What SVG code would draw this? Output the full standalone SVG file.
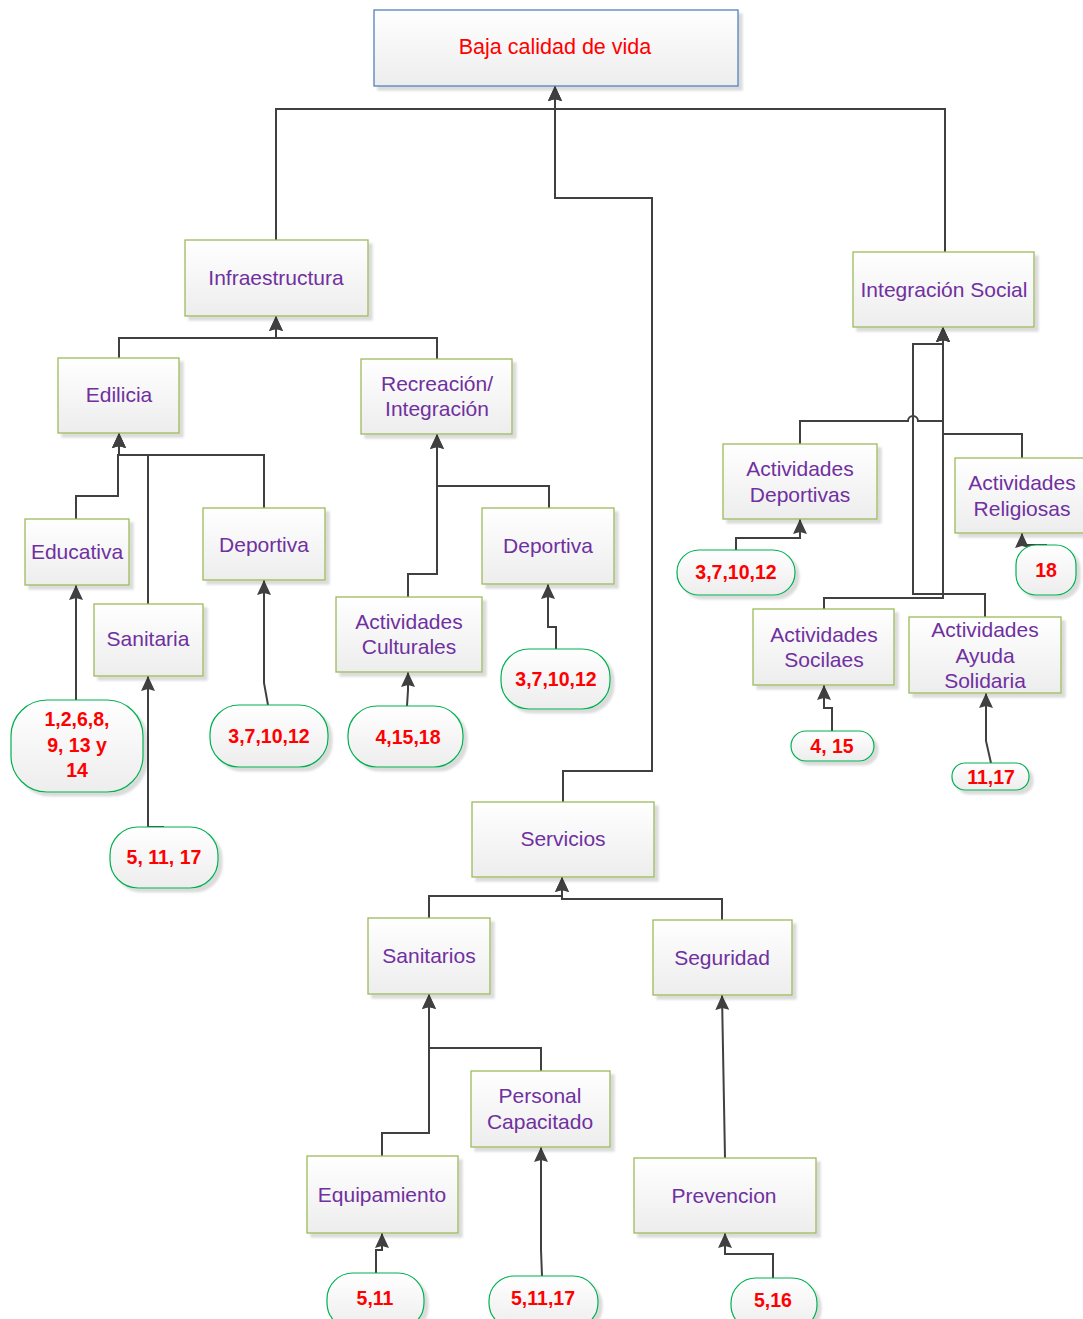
<svg xmlns="http://www.w3.org/2000/svg" width="1083" height="1319" viewBox="0 0 1083 1319">
<style>
.box{fill:url(#gb);stroke:#9bbb59;stroke-width:1.3;filter:url(#sh)}
.top{fill:url(#gb);stroke:#4f81bd;stroke-width:1.3;filter:url(#sh)}
.leaf{fill:url(#gb);stroke:#00b050;stroke-width:1.2;filter:url(#sh)}
.t{font-family:"Liberation Sans",Arial,sans-serif;font-size:21px;fill:#7030a0;text-anchor:middle;dominant-baseline:central}
.tr{font-family:"Liberation Sans",Arial,sans-serif;font-size:21.5px;fill:#ff0000;text-anchor:middle;dominant-baseline:central}
.n{font-family:"Liberation Sans",Arial,sans-serif;font-size:19.5px;font-weight:bold;fill:#ff0000;text-anchor:middle;dominant-baseline:central}
.c{fill:none;stroke:#404040;stroke-width:2}
.a{marker-end:url(#ah)}
</style>
<defs>
<linearGradient id="gb" x1="0" y1="0" x2="0" y2="1">
<stop offset="0" stop-color="#ffffff"/>
<stop offset="1" stop-color="#ededed"/>
</linearGradient>
<filter id="sh" x="-10%" y="-10%" width="130%" height="130%">
<feDropShadow dx="4" dy="4" stdDeviation="1" flood-color="#000" flood-opacity="0.14"/>
</filter>
<marker id="ah" markerWidth="16" markerHeight="14" refX="15" refY="7" orient="auto" markerUnits="userSpaceOnUse">
<path d="M0,0 L15,7 L0,14 L2,7 z" fill="#404040"/>
</marker>
</defs>

<g id="connectors">
<path class="c a" d="M276,240 V109 H555 V86"/>
<path class="c a" d="M945,252 V109 H555 V86"/>
<path class="c a" d="M563,802 V771 H652 V198 H555 V86"/>
<path class="c a" d="M119,358 V338 H276 V316"/>
<path class="c a" d="M437,359 V338 H276 V316"/>
<path class="c a" d="M76,519 V496 H118 V455 H119 V433"/>
<path class="c a" d="M148,604 V455 H119 V433"/>
<path class="c a" d="M264,508 V455 H119 V433"/>
<path class="c a" d="M76,700 V585"/>
<path class="c a" d="M164,827 H148 V676"/>
<path class="c a" d="M268,705 L264,683 V580"/>
<path class="c a" d="M408,597 V574 H437 V434"/>
<path class="c a" d="M549,508 V486 H437 V434"/>
<path class="c a" d="M407,706 L408,690 V672"/>
<path class="c a" d="M556,649 V627 H548 V584"/>
<path class="c a" d="M800,444 V421 H908 a5,5 0 0 1 10,0 H943 V327"/>
<path class="c a" d="M1022,458 V434 H943 V327"/>
<path class="c a" d="M824,609 V598 H943 V327"/>
<path class="c a" d="M985,617 V594 H913 V344 H943 V327"/>
<path class="c a" d="M736,550 V538 H800 V519"/>
<path class="c a" d="M1047,545 H1022 V533"/>
<path class="c a" d="M832,731 V708 H824 V685"/>
<path class="c a" d="M991,763 L986,741 V693"/>
<path class="c a" d="M429,918 V896 H562 V877"/>
<path class="c a" d="M722,920 V899 H562 V877"/>
<path class="c a" d="M382,1156 V1133 H429 V994"/>
<path class="c a" d="M541,1071 V1048 H429 V994"/>
<path class="c a" d="M725,1158 L722,995"/>
<path class="c a" d="M376,1273 V1250 H382 V1233"/>
<path class="c a" d="M542,1276 L541,1250 V1147"/>
<path class="c a" d="M773,1278 V1254 H725 V1233"/>
</g>

<g id="n-baja"><rect class="top" x="374" y="10" width="364" height="76"/><text class="tr" x="555" y="47">Baja calidad de vida</text></g>
<g id="n-infra"><rect class="box" x="185" y="240" width="183" height="76"/><text class="t" x="276" y="277">Infraestructura</text></g>
<g id="n-integracion"><rect class="box" x="853" y="252" width="181" height="75"/><text class="t" x="944" y="289">Integración Social</text></g>
<g id="n-edilicia"><rect class="box" x="58" y="358" width="121" height="75"/><text class="t" x="119" y="394">Edilicia</text></g>
<g id="n-recreacion"><rect class="box" x="361" y="359" width="151" height="75"/><text class="t" x="437" y="383">Recreación/</text><text class="t" x="437" y="408">Integración</text></g>
<g id="n-educativa"><rect class="box" x="25" y="519" width="104" height="66"/><text class="t" x="77" y="551">Educativa</text></g>
<g id="n-sanitaria"><rect class="box" x="94" y="604" width="109" height="72"/><text class="t" x="148" y="638">Sanitaria</text></g>
<g id="n-deportiva1"><rect class="box" x="203" y="508" width="122" height="72"/><text class="t" x="264" y="544">Deportiva</text></g>
<g id="n-deportiva2"><rect class="box" x="482" y="508" width="132" height="76"/><text class="t" x="548" y="545">Deportiva</text></g>
<g id="n-culturales"><rect class="box" x="336" y="597" width="146" height="75"/><text class="t" x="409" y="621">Actividades</text><text class="t" x="409" y="646">Culturales</text></g>
<g id="n-actdep"><rect class="box" x="723" y="444" width="154" height="75"/><text class="t" x="800" y="468">Actividades</text><text class="t" x="800" y="494">Deportivas</text></g>
<g id="n-actrel"><rect class="box" x="955" y="458" width="135" height="75"/><text class="t" x="1022" y="482">Actividades</text><text class="t" x="1022" y="508">Religiosas</text></g>
<g id="n-actsoc"><rect class="box" x="753" y="609" width="141" height="76"/><text class="t" x="824" y="634">Actividades</text><text class="t" x="824" y="659">Socilaes</text></g>
<g id="n-actayuda"><rect class="box" x="909" y="617" width="152" height="76"/><text class="t" x="985" y="629">Actividades</text><text class="t" x="985" y="655">Ayuda</text><text class="t" x="985" y="680">Solidaria</text></g>
<g id="n-servicios"><rect class="box" x="472" y="802" width="182" height="75"/><text class="t" x="563" y="838">Servicios</text></g>
<g id="n-sanitarios"><rect class="box" x="368" y="918" width="122" height="76"/><text class="t" x="429" y="955">Sanitarios</text></g>
<g id="n-seguridad"><rect class="box" x="653" y="920" width="139" height="75"/><text class="t" x="722" y="957">Seguridad</text></g>
<g id="n-personal"><rect class="box" x="471" y="1071" width="139" height="76"/><text class="t" x="540" y="1095">Personal</text><text class="t" x="540" y="1121">Capacitado</text></g>
<g id="n-equipamiento"><rect class="box" x="307" y="1156" width="151" height="77"/><text class="t" x="382" y="1194">Equipamiento</text></g>
<g id="n-prevencion"><rect class="box" x="634" y="1158" width="182" height="75"/><text class="t" x="724" y="1195">Prevencion</text></g>

<g id="l-educ"><rect class="leaf" x="11" y="700" width="132" height="92" rx="36"/><text class="n" x="77" y="719">1,2,6,8,</text><text class="n" x="77" y="745">9, 13 y</text><text class="n" x="77" y="770">14</text></g>
<g id="l-sanit"><rect class="leaf" x="110" y="827" width="108" height="61" rx="28"/><text class="n" x="164" y="857">5, 11, 17</text></g>
<g id="l-dep1"><rect class="leaf" x="210" y="705" width="118" height="62" rx="29"/><text class="n" x="269" y="736">3,7,10,12</text></g>
<g id="l-cult"><rect class="leaf" x="348" y="706" width="115" height="61" rx="29"/><text class="n" x="408" y="737">4,15,18</text></g>
<g id="l-dep2"><rect class="leaf" x="501" y="649" width="109" height="60" rx="28"/><text class="n" x="556" y="679">3,7,10,12</text></g>
<g id="l-actdep"><rect class="leaf" x="677" y="550" width="118" height="45" rx="22"/><text class="n" x="736" y="572">3,7,10,12</text></g>
<g id="l-actrel"><rect class="leaf" x="1016" y="545" width="60" height="50" rx="20"/><text class="n" x="1046" y="570">18</text></g>
<g id="l-actsoc"><rect class="leaf" x="791" y="731" width="83" height="30" rx="15"/><text class="n" x="832" y="746">4, 15</text></g>
<g id="l-actayuda"><rect class="leaf" x="952" y="763" width="77" height="27" rx="13"/><text class="n" x="991" y="777">11,17</text></g>
<g id="l-equip"><rect class="leaf" x="327" y="1273" width="97" height="56" rx="26"/><text class="n" x="375" y="1298">5,11</text></g>
<g id="l-personal"><rect class="leaf" x="489" y="1276" width="109" height="52" rx="25"/><text class="n" x="543" y="1298">5,11,17</text></g>
<g id="l-prev"><rect class="leaf" x="731" y="1278" width="86" height="52" rx="25"/><text class="n" x="773" y="1300">5,16</text></g>
</svg>
